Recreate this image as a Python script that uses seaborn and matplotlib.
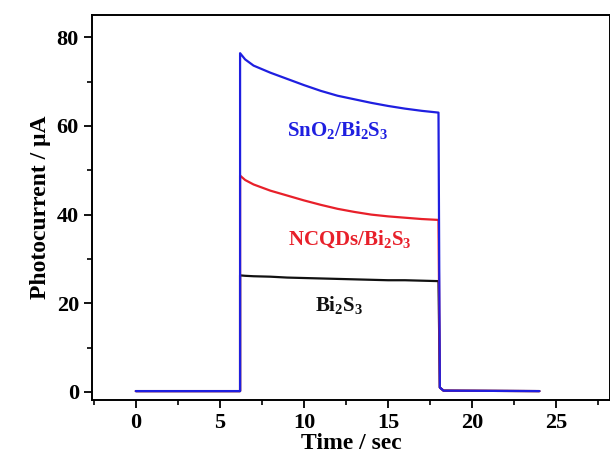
import matplotlib
matplotlib.use("Agg")
import matplotlib.pyplot as plt
import seaborn as sns
import pandas as pd
from matplotlib.ticker import MultipleLocator

# time points (sec), light on at ~6.2 s, off at ~18 s
time = [0.0, 6.2, 6.2, 6.5, 7.0, 8.0, 9.0, 10.0, 11.0, 12.0, 13.0, 14.0,
        15.0, 16.0, 17.0, 18.0, 18.08, 18.3, 24.0]

bi2s3 = [0.2, 0.2, 26.3, 26.2, 26.1, 26.0, 25.8, 25.7, 25.6, 25.5, 25.4,
         25.3, 25.2, 25.2, 25.1, 25.0, 1.0, 0.3, 0.2]
ncqds = [0.2, 0.2, 48.8, 47.8, 46.8, 45.4, 44.3, 43.2, 42.2, 41.3, 40.6,
         40.0, 39.6, 39.3, 39.0, 38.8, 1.0, 0.3, 0.2]
sno2 = [0.2, 0.2, 76.4, 75.0, 73.6, 72.0, 70.6, 69.2, 67.9, 66.8, 66.0,
        65.2, 64.5, 63.9, 63.4, 63.0, 1.0, 0.3, 0.2]

series = ["Bi2S3", "NCQDs/Bi2S3", "SnO2/Bi2S3"]
colors = ["#111111", "#e8202a", "#1f1fe0"]
labels = [r"$\mathbf{Bi_2S_3}$", r"$\mathbf{NCQDs/Bi_2S_3}$", r"$\mathbf{SnO_2/Bi_2S_3}$"]
label_pos = [(12.1, 19.6), (12.7, 34.3), (12.0, 59.0)]

df = pd.concat([
    pd.DataFrame({"time": time, "current": vals, "sample": name})
    for name, vals in zip(series, [bi2s3, ncqds, sno2])
])

sns.set_theme(style="ticks")
plt.rcParams["font.family"] = ["Liberation Serif", "DejaVu Serif"]
plt.rcParams["font.weight"] = "bold"
plt.rcParams["text.color"] = "black"
plt.rcParams["axes.labelcolor"] = "black"
plt.rcParams["xtick.color"] = "black"
plt.rcParams["ytick.color"] = "black"
plt.rcParams["mathtext.fontset"] = "custom"
plt.rcParams["mathtext.bf"] = "Liberation Serif:bold"
plt.rcParams["mathtext.rm"] = "Liberation Serif:bold"

fig, ax = plt.subplots(figsize=(6.1, 4.7), dpi=100)
for name, c in zip(series, colors):
    sns.lineplot(data=df[df["sample"] == name], x="time", y="current",
                 color=c, lw=1.6, sort=False, estimator=None, ax=ax,
                 legend=False)

for lab, (tx, ty), c in zip(labels, label_pos, colors):
    ax.text(tx, ty, lab, color=c, fontsize=15, ha="center", va="center")

ax.set_xlim(-2.6, 28.2)
ax.set_ylim(-1.8, 85)
ax.xaxis.set_major_locator(MultipleLocator(5))
ax.xaxis.set_minor_locator(MultipleLocator(2.5))
ax.yaxis.set_major_locator(MultipleLocator(20))
ax.yaxis.set_minor_locator(MultipleLocator(10))
ax.tick_params(which="major", direction="out", length=6, width=1.3,
               labelsize=16)
ax.tick_params(which="minor", direction="out", length=3.5, width=1.2)
for lbl in ax.get_xticklabels() + ax.get_yticklabels():
    lbl.set_fontweight("bold")
for sp in ax.spines.values():
    sp.set_linewidth(1.4)
    sp.set_color("black")

ax.set_xlabel("Time / sec", fontsize=17, fontweight="bold", labelpad=0)
ax.set_ylabel("Photocurrent / μA", fontsize=17, fontweight="bold", labelpad=4)

fig.subplots_adjust(left=0.151, right=1.0, top=0.968, bottom=0.149)
fig.savefig("out.png", dpi=100)
